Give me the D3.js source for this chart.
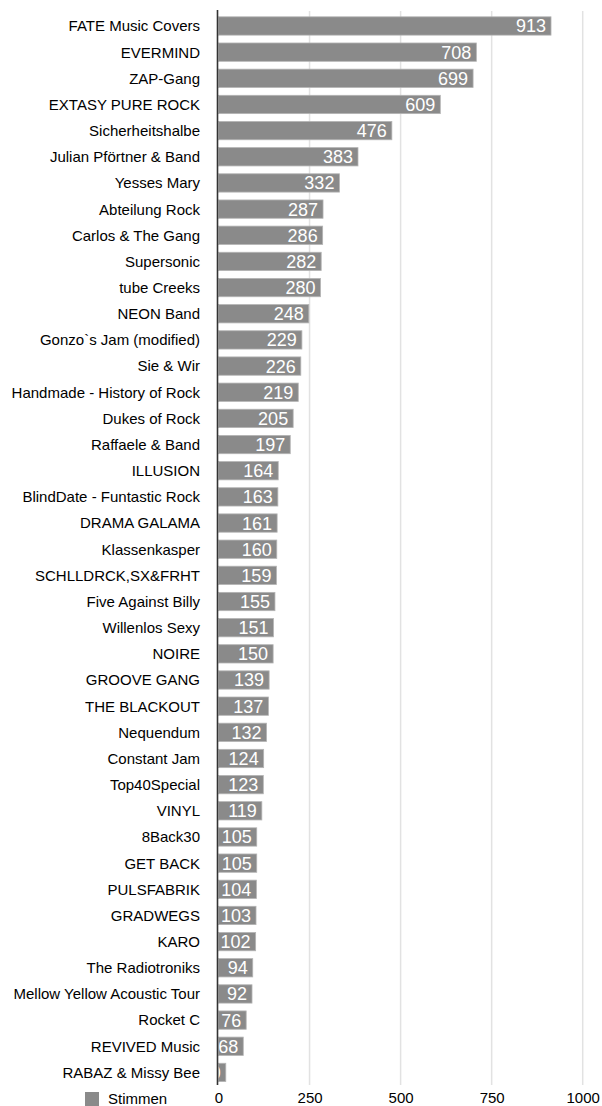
<!DOCTYPE html>
<html>
<head>
<meta charset="utf-8">
<script src="https://cdn.jsdelivr.net/npm/d3@7/dist/d3.min.js"></script>
<style>
  html, body { margin: 0; padding: 0; background: #fff; }
  svg { display: block; }
</style>
</head>
<body>
<script>
const categories = [
  "FATE Music Covers", "EVERMIND", "ZAP-Gang", "EXTASY PURE ROCK", "Sicherheitshalbe",
  "Julian Pförtner & Band", "Yesses Mary", "Abteilung Rock", "Carlos & The Gang", "Supersonic",
  "tube Creeks", "NEON Band", "Gonzo`s Jam (modified)", "Sie & Wir", "Handmade - History of Rock",
  "Dukes of Rock", "Raffaele & Band", "ILLUSION", "BlindDate - Funtastic Rock", "DRAMA GALAMA",
  "Klassenkasper", "SCHLLDRCK,SX&FRHT", "Five Against Billy", "Willenlos Sexy", "NOIRE",
  "GROOVE GANG", "THE BLACKOUT", "Nequendum", "Constant Jam", "Top40Special",
  "VINYL", "8Back30", "GET BACK", "PULSFABRIK", "GRADWEGS",
  "KARO", "The Radiotroniks", "Mellow Yellow Acoustic Tour", "Rocket C", "REVIVED Music",
  "RABAZ & Missy Bee"
];
const stimmen = [
  913, 708, 699, 609, 476,
  383, 332, 287, 286, 282,
  280, 248, 229, 226, 219,
  205, 197, 164, 163, 161,
  160, 159, 155, 151, 150,
  139, 137, 132, 124, 123,
  119, 105, 105, 104, 103,
  102, 94, 92, 76, 68,
  20
];
const xTicks = [0, 250, 500, 750, 1000];
const seriesName = "Stimmen";

const W = 602, H = 1106;
const font = "'Liberation Sans', Arial, Helvetica, sans-serif";

const svg = d3.select("body").append("svg")
  .attr("width", W).attr("height", H);

const x = d3.scaleLinear().domain([0, 1000]).range([218.5, 582.7]);
const y = d3.scaleBand().domain(categories).range([12.9, 1085.5]).paddingInner(0.3).paddingOuter(0.15);

const data = categories.map((c, i) => ({ name: c, value: stimmen[i], i }));

// gridlines
svg.append("g").selectAll("line")
  .data(xTicks.filter(t => t > 0))
  .join("line")
  .attr("x1", d => x(d)).attr("x2", d => x(d))
  .attr("y1", 11).attr("y2", 1085)
  .attr("stroke", "#e2e2e2").attr("stroke-width", 1.5);

// clip paths per bar
const defs = svg.append("defs");
defs.selectAll("clipPath")
  .data(data)
  .join("clipPath")
  .attr("id", d => "clip" + d.i)
  .append("rect")
  .attr("x", x(0)).attr("y", d => y(d.name))
  .attr("width", d => x(d.value) - x(0)).attr("height", y.bandwidth());

// bars
svg.append("g").selectAll("rect")
  .data(data)
  .join("rect")
  .attr("x", x(0)).attr("y", d => y(d.name))
  .attr("width", d => x(d.value) - x(0)).attr("height", y.bandwidth())
  .attr("fill", "#8a8a8a").attr("stroke", "#b4b4b4").attr("stroke-width", 0.8);

// value labels
svg.append("g").selectAll("text")
  .data(data)
  .join("text")
  .attr("clip-path", d => `url(#clip${d.i})`)
  .attr("x", d => x(d.value) - 5)
  .attr("y", d => y(d.name) + y.bandwidth() / 2)
  .attr("dy", "0.36em")
  .attr("text-anchor", "end")
  .attr("font-family", font).attr("font-size", 18)
  .attr("fill", "#fff")
  .text(d => d.value);

// category labels
svg.append("g").selectAll("text")
  .data(data)
  .join("text")
  .attr("x", 200)
  .attr("y", d => y(d.name) + y.bandwidth() / 2)
  .attr("dy", "0.36em")
  .attr("text-anchor", "end")
  .attr("font-family", font).attr("font-size", 15)
  .attr("fill", "#000")
  .text(d => d.name);

// axis line
svg.append("line")
  .attr("x1", x(0) - 1).attr("x2", x(0) - 1)
  .attr("y1", 10).attr("y2", 1085)
  .attr("stroke", "#333").attr("stroke-width", 1.6);

// x tick labels
const xAxis = d3.axisBottom(x).tickValues(xTicks).tickFormat(d3.format("d")).tickSize(0).tickPadding(0);
const gx = svg.append("g").attr("transform", "translate(0,1092)").call(xAxis);
gx.select(".domain").remove();
gx.selectAll("text")
  .attr("font-family", font).attr("font-size", 15).attr("fill", "#000")
  .attr("dy", "0.71em").attr("y", 0);

// legend
svg.append("rect")
  .attr("x", 85).attr("y", 1092).attr("width", 14).attr("height", 14)
  .attr("fill", "#8a8a8a");
svg.append("text")
  .attr("x", 108).attr("y", 1099).attr("dy", "0.36em")
  .attr("font-family", font).attr("font-size", 15).attr("fill", "#000")
  .text(seriesName);
</script>
</body>
</html>
